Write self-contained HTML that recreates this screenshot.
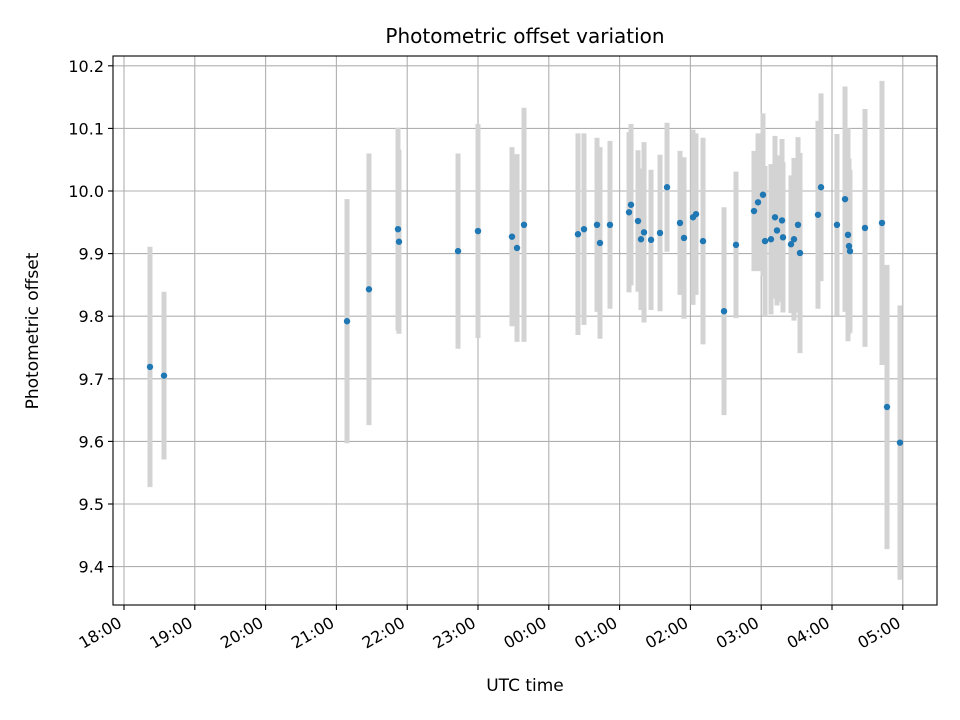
<!DOCTYPE html>
<html><head><meta charset="utf-8"><style>
body{margin:0;background:#fff}
svg{display:block;font-family:"DejaVu Sans","Liberation Sans",sans-serif}
</style></head><body>
<svg id="chart" width="960" height="720" viewBox="0 0 960 720" xmlns="http://www.w3.org/2000/svg">
<rect width="960" height="720" fill="#fff"/>
<g id="grid"></g>
<g id="bars"></g>
<g id="pts"></g>
<rect x="113" y="56" width="824" height="549" fill="none" stroke="#000" stroke-width="1.1"/>
<g id="axes"></g>
<text x="525" y="43" text-anchor="middle" font-size="20">Photometric offset variation</text>
<text x="525" y="691" text-anchor="middle" font-size="17">UTC time</text>
<text x="38" y="331" text-anchor="middle" font-size="17" transform="rotate(-90 38 331)">Photometric offset</text>
</svg>
<script>
// hours since 18:00 UTC
const times=[0.367,0.565,3.150,3.460,3.870,3.884,4.718,5.000,5.480,5.551,5.650,6.412,6.497,6.681,6.723,6.864,7.133,7.161,7.260,7.302,7.345,7.444,7.571,7.670,7.853,7.910,8.037,8.079,8.178,8.475,8.644,8.898,8.955,9.025,9.054,9.138,9.195,9.223,9.294,9.308,9.421,9.463,9.520,9.548,9.802,9.845,10.07,10.184,10.226,10.240,10.254,10.466,10.706,10.777,10.960];
const offsets=[9.719,9.705,9.792,9.843,9.939,9.919,9.904,9.936,9.927,9.909,9.946,9.931,9.939,9.946,9.917,9.946,9.966,9.978,9.952,9.923,9.934,9.922,9.933,10.006,9.949,9.925,9.958,9.963,9.920,9.808,9.914,9.968,9.982,9.994,9.920,9.923,9.958,9.937,9.953,9.926,9.915,9.923,9.946,9.901,9.962,10.006,9.946,9.987,9.930,9.912,9.904,9.941,9.949,9.655,9.598];
const errors=[0.192,0.134,0.195,0.217,0.162,0.147,0.156,0.171,0.143,0.150,0.187,0.161,0.153,0.139,0.153,0.134,0.128,0.129,0.113,0.113,0.144,0.112,0.125,0.103,0.115,0.129,0.140,0.129,0.165,0.166,0.117,0.096,0.11,0.13,0.12,0.12,0.13,0.12,0.13,0.12,0.11,0.13,0.14,0.16,0.15,0.15,0.145,0.18,0.17,0.14,0.13,0.19,0.227,0.227,0.219];
const xTickLabels=["18:00","19:00","20:00","21:00","22:00","23:00","00:00","01:00","02:00","03:00","04:00","05:00"];
const yTicks=[9.4,9.5,9.6,9.7,9.8,9.9,10.0,10.1,10.2];

const X=h=>124+h*70.8;
const Y=v=>191-(v-10)*626;
const NS="http://www.w3.org/2000/svg";
function mk(tag,attrs,parent){const e=document.createElementNS(NS,tag);for(const k in attrs)e.setAttribute(k,attrs[k]);parent.appendChild(e);return e;}
const grid=document.getElementById('grid'),axes=document.getElementById('axes'),bars=document.getElementById('bars'),pts=document.getElementById('pts');
xTickLabels.forEach((lab,i)=>{
  const x=X(i);
  const g=mk('line',{x1:x,x2:x,y1:56,y2:605,stroke:'#b0b0b0','stroke-width':1.1},grid);
  
  
  const t=mk('line',{x1:x,x2:x,y1:605,y2:610,stroke:'#000','stroke-width':1.1},axes);
  
  
  const tx=mk('text',{x:x-1,y:626,'text-anchor':'end','font-size':16,transform:`rotate(-30 ${x-1} 626)`},axes);
  tx.textContent=lab;
  
  
});
yTicks.forEach(v=>{
  const y=Y(v);
  const g=mk('line',{x1:113,x2:937,y1:y,y2:y,stroke:'#b0b0b0','stroke-width':1.1},grid);
  
  
  const t=mk('line',{x1:108,x2:113,y1:y,y2:y,stroke:'#000','stroke-width':1.1},axes);
  
  
  const tx=mk('text',{x:104,y:y+6,'text-anchor':'end','font-size':16},axes);
  tx.textContent=v.toFixed(1);
  
  
});
times.forEach((h,i)=>{
  const x=X(h);
  const b=mk('line',{x1:x,x2:x,y1:Y(offsets[i]+errors[i]),y2:Y(offsets[i]-errors[i]),stroke:'#d3d3d3','stroke-width':5},bars);
  
  
});
times.forEach((h,i)=>{
  const c=mk('circle',{cx:X(h),cy:Y(offsets[i]),r:3.2,fill:'#1f77b4'},pts);
  
  
});
</script>
</body></html>
